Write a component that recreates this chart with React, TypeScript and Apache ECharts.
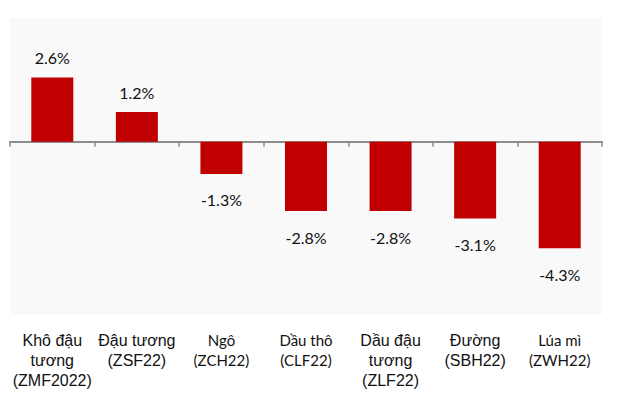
import React, { useEffect, useRef } from "react";
import * as echarts from "echarts";

const categories = [
  "Khô đậu\ntương\n(ZMF2022)",
  "Đậu tương\n(ZSF22)",
  "Ngô\n(ZCH22)",
  "Dầu thô\n(CLF22)",
  "Dầu đậu\ntương\n(ZLF22)",
  "Đường\n(SBH22)",
  "Lúa mì\n(ZWH22)",
];
const changes = [2.6, 1.2, -1.3, -2.8, -2.8, -3.1, -4.3];
const yMin = -7;
const yMax = 5;

// categories whose label is set in the larger sans font
const largeLabelIdx = new Set([0, 1, 4, 5]);

export default function App() {
  const ref = useRef<HTMLDivElement>(null);
  useEffect(() => {
    document.body.style.margin = "0";
    const chart = echarts.init(ref.current!, null, { renderer: "svg" });
    chart.setOption({
      animation: false,
      backgroundColor: "#ffffff",
      grid: {
        left: 10,
        right: 15,
        top: 18,
        bottom: 83,
        containLabel: false,
        show: true,
        backgroundColor: "#f9f9f9",
        borderWidth: 0,
      },
      xAxis: [
        {
          type: "category",
          data: categories,
          position: "bottom",
          axisLine: { onZero: true, lineStyle: { color: "#8c8c8c", width: 2 } },
          axisTick: { show: true, length: 5, lineStyle: { color: "#8c8c8c", width: 1.5 } },
          axisLabel: { show: false },
          splitLine: { show: false },
        },
        {
          type: "category",
          data: categories,
          position: "bottom",
          axisLine: { show: false, onZero: false },
          axisTick: { show: false },
          splitLine: { show: false },
          axisLabel: {
            show: true,
            margin: 15,
            interval: 0,
            formatter: (value: string, index: number) => {
              const tag = largeLabelIdx.has(index) ? "a" : "b";
              return value
                .split("\n")
                .map((l) => `{${tag}|${l}}`)
                .join("\n");
            },
            rich: {
              a: {
                fontFamily: "Liberation Sans",
                fontSize: 16,
                lineHeight: 20,
                color: "#111111",
                align: "center",
              },
              b: {
                fontFamily: "Lato",
                fontSize: 15,
                lineHeight: 20,
                color: "#111111",
                align: "center",
              },
            },
          },
        },
      ],
      yAxis: {
        type: "value",
        min: yMin,
        max: yMax,
        show: false,
        splitLine: { show: false },
      },
      series: [
        {
          type: "bar",
          xAxisIndex: 0,
          barWidth: 42,
          itemStyle: { color: "#c00000" },
          data: changes.map((v) => ({
            value: v,
            label: {
              show: true,
              position: v >= 0 ? "top" : "bottom",
              distance: v >= 0 ? 12 : 18,
            },
          })),
          label: {
            show: true,
            fontFamily: "Lato",
            fontSize: 16,
            color: "#111111",
            formatter: (p: any) => `${Number(p.value).toFixed(1)}%`,
          },
        },
      ],
    });
    return () => chart.dispose();
  }, []);
  return <div ref={ref} style={{ width: 617, height: 398 }} />;
}
